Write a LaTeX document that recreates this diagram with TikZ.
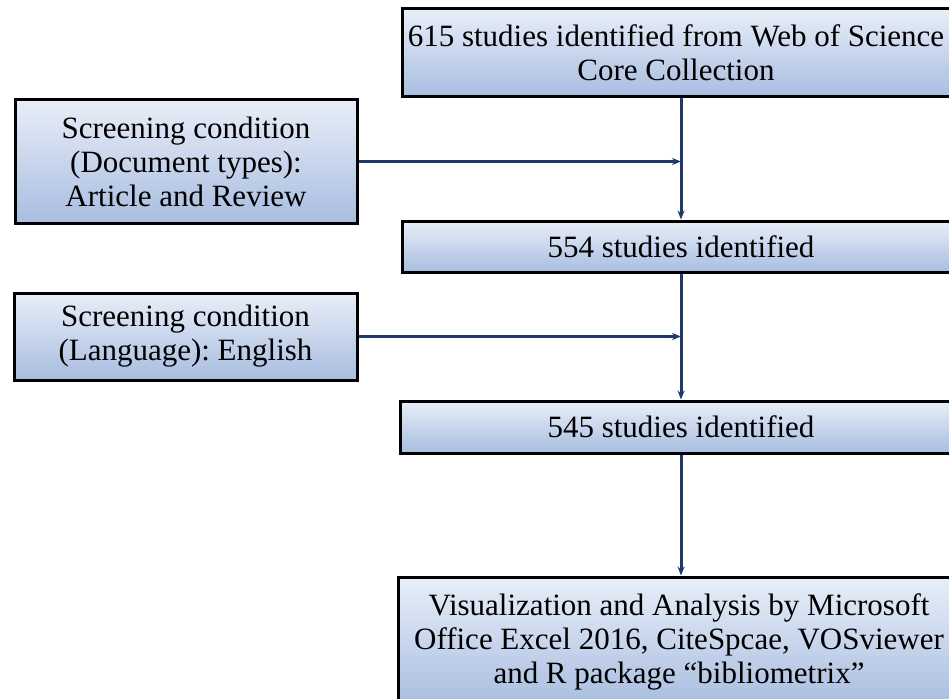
\documentclass[tikz,border=0pt]{standalone}
\usepackage{fontspec}
\setmainfont{Liberation Serif}
\usetikzlibrary{arrows.meta}
\definecolor{boxtop}{HTML}{E8EEF8}
\definecolor{boxbot}{HTML}{A8BDE0}
\definecolor{arrowc}{HTML}{1F3A68}
\tikzset{
  flowbox/.style={draw=black, line width=3pt, top color=boxtop, bottom color=boxbot,
    inner sep=0pt, align=center, font=\fontsize{31}{34}\selectfont\frenchspacing},
  flowarrow/.style={draw=arrowc, line width=3pt, -{Stealth[length=9pt,width=7pt]}}
}
\begin{document}
\begin{tikzpicture}[x=1pt,y=-1pt]
\useasboundingbox (0,0) rectangle (949,698);
\node[flowbox, minimum width=548pt, minimum height=88pt] (b1) at (676,53)
  {615 studies identified from Web of Science\\Core Collection};
\node[flowbox, minimum width=558pt, minimum height=51pt] (b2) at (681,246.5)
  {554 studies identified};
\node[flowbox, minimum width=562pt, minimum height=52pt] (b3) at (681,427)
  {545 studies identified};
\node[flowbox, minimum width=562pt, minimum height=130pt] (b4) at (679,642)
  {Visualization and Analysis by Microsoft\\Office Excel 2016, CiteSpcae, VOSviewer\\and R package ``bibliometrix''};
\node[flowbox, minimum width=342pt, minimum height=123pt] (l1) at (186,161.5)
  {Screening condition\\(Document types):\\Article and Review};
\node[flowbox, minimum width=343pt, minimum height=87pt] (l2) at (185.5,336.5)
  {Screening condition\\(Language): English};
\coordinate (m1) at (b2.north |- l1.east);
\coordinate (m2) at (b2.south |- l2.east);
\draw[flowarrow] (b2.north |- b1.south) -- (b2.north);
\draw[flowarrow] (l1.east) -- (m1);
\draw[flowarrow] (b2.south) -- (b3.north);
\draw[flowarrow] (l2.east) -- (m2);
\draw[flowarrow] (b3.south) -- (b3.south |- b4.north);
\end{tikzpicture}
\end{document}
